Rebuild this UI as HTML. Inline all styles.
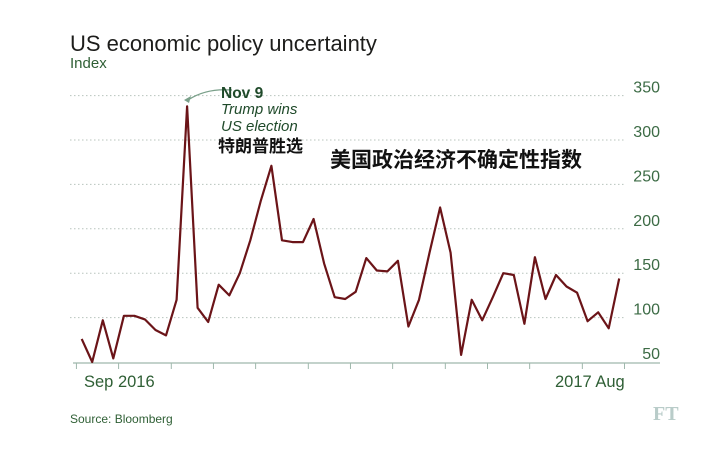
<!DOCTYPE html>
<html><head><meta charset="utf-8"><style>
body{margin:0;background:#fff;width:712px;height:462px;overflow:hidden;font-family:"Liberation Sans","Noto Sans CJK SC",sans-serif}
svg{position:absolute;left:0;top:0}
</style></head><body>
<svg width="712" height="462">
<text x="70" y="51" font-size="22" fill="#1d1d1b">US economic policy uncertainty</text>
<text x="70" y="68" font-size="15" fill="#2f5f35">Index</text>
<g id="grid"></g>
<g id="ylabels"></g>
<g id="xaxis"></g>
<path id="line" fill="none" stroke="#6b1418" stroke-width="2.2" stroke-linejoin="round"/>
<path d="M232,90 Q206,88 188,100" fill="none" stroke="#7aa08a" stroke-width="1.2"/>
<path d="M184,100 L191,96 L189,103 Z" fill="#7aa08a"/>
<text x="221" y="98" font-size="15.5" font-weight="bold" fill="#1f4a2a">Nov 9</text>
<text x="221" y="114" font-size="15" font-style="italic" fill="#1f4a2a">Trump wins</text>
<text x="221" y="131" font-size="15" font-style="italic" fill="#1f4a2a">US election</text>
<text x="218" y="152" font-size="17" font-weight="bold" fill="#111">特朗普胜选</text>
<text x="330" y="167" font-size="21" font-weight="bold" fill="#111">美国政治经济不确定性指数</text>
<text x="84" y="387" font-size="16.5" fill="#2f5f35">Sep 2016</text>
<text x="555" y="387" font-size="16.5" fill="#2f5f35">2017 Aug</text>
<text x="70" y="423" font-size="12" fill="#2f5f35">Source: Bloomberg</text>
<text x="653" y="420" font-size="20" font-weight="bold" fill="#b9ccc9" font-family="Liberation Serif,serif">FT</text>
</svg>
<script>
const values=[76,50,97,54,102,102,98,86,80,120,338,111,95,137,125,150,187,232,271,187,185,185,211,161,123,121,129,167,153,152,164,90,120,173,224,173,58,120,97,123,150,148,93,168,121,148,135,128,96,106,88,144];
const yTicks=[50,100,150,200,250,300,350];
const xTickIdx=[-0.5,3.5,8.5,12.5,16.5,21.5,25.5,29.5,34.5,38.5,42.5,47.5,51.5];
const ns="http://www.w3.org/2000/svg";
const x0=81.7,dx=10.54;
const X=i=>x0+i*dx;
const Y=v=>362-(v-50)*0.888;
const grid=document.getElementById('grid'),yl=document.getElementById('ylabels'),xa=document.getElementById('xaxis');
yTicks.forEach(t=>{
 if(t>50){const l=document.createElementNS(ns,'line');
 
 
 l.setAttribute('x1',70);l.setAttribute('x2',625);l.setAttribute('y1',Y(t));l.setAttribute('y2',Y(t));
 l.setAttribute('stroke','#b8c4bd');l.setAttribute('stroke-dasharray','1.5 2.5');grid.appendChild(l);}
 const tx=document.createElementNS(ns,'text');
 
 
 tx.setAttribute('x',660);tx.setAttribute('y',Y(t)-3);tx.setAttribute('text-anchor','end');
 tx.setAttribute('font-size','16');tx.setAttribute('fill','#3c6b45');tx.textContent=t;yl.appendChild(tx);
});
const ax=document.createElementNS(ns,'line');


ax.setAttribute('x1',73);ax.setAttribute('x2',660);ax.setAttribute('y1',363);ax.setAttribute('y2',363);
ax.setAttribute('stroke','#9fb8ac');ax.setAttribute('stroke-width','1.3');xa.appendChild(ax);
xTickIdx.forEach(i=>{const l=document.createElementNS(ns,'line');
 
 
 l.setAttribute('x1',X(i));l.setAttribute('x2',X(i));l.setAttribute('y1',363);l.setAttribute('y2',369);
 l.setAttribute('stroke','#9fb8ac');xa.appendChild(l);});
document.getElementById('line').setAttribute('d',values.map((v,i)=>(i?'L':'M')+X(i).toFixed(1)+','+Y(v).toFixed(1)).join(''));
</script>
</body></html>
